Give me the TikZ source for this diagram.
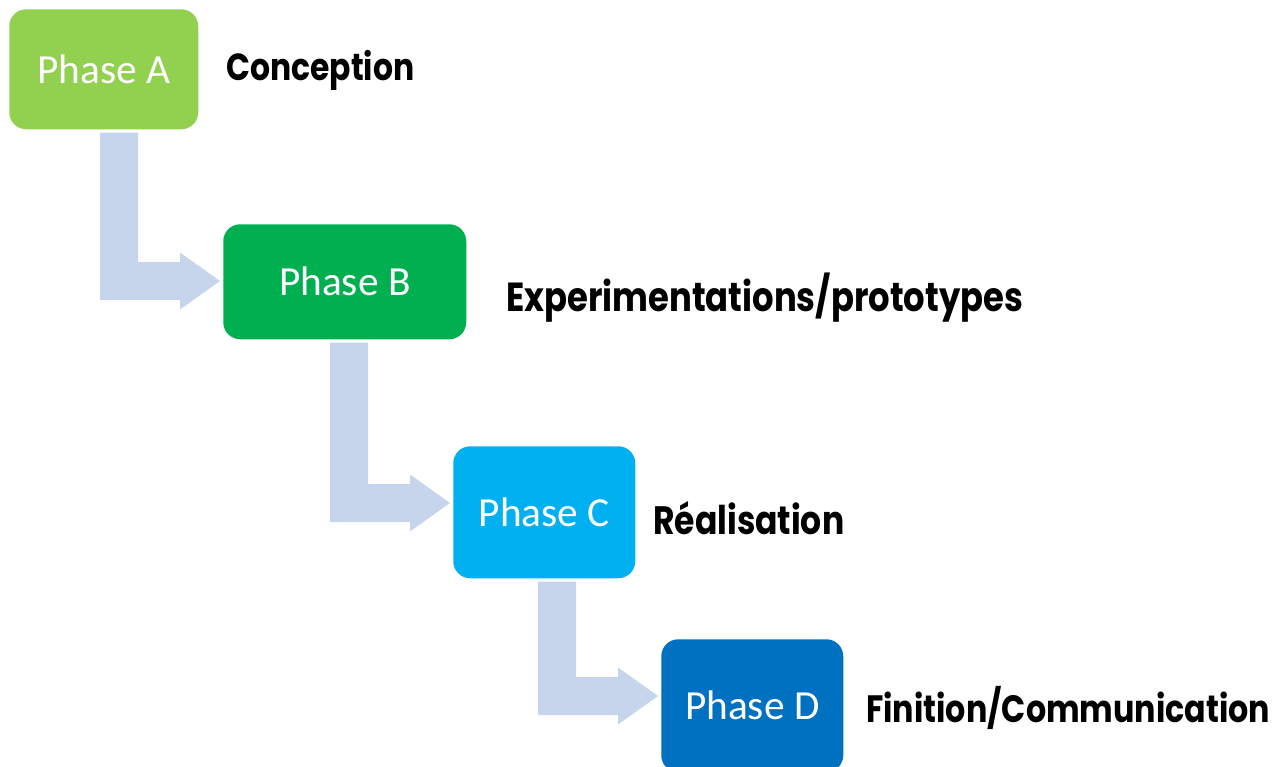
\documentclass[tikz,border=0pt]{standalone}
\usepackage{fontspec}
\setmainfont{Carlito}
\newfontfamily\labfont{Poppins}
\usetikzlibrary{calc}
\definecolor{phA}{HTML}{92D050}
\definecolor{phB}{HTML}{00B050}
\definecolor{phC}{HTML}{00B0F0}
\definecolor{phD}{HTML}{0070C0}
\definecolor{arrfill}{HTML}{C6D5EB}
\tikzset{
  phasebox/.style={anchor=north west, inner sep=0pt, rounded corners=12.75pt,
    text=white, font=\fontsize{31}{36}\selectfont, align=center},
  lab/.style={anchor=base west, inner sep=0pt, text=black},
  arrowfill/.style={fill=arrfill}
}
\newcommand\blockarr[2]{%
  \fill[arrowfill] let \p1=(#1.south), \p2=(#2.north west) in
    (\x2-92.25pt,\y1-2.25pt) -- (\x2-63.75pt,\y1-2.25pt) -- (\x2-63.75pt,\y2-28.5pt)
    -- (\x2-32.25pt,\y2-28.5pt) -- (\x2-32.25pt,\y2-21.375pt) -- (\x2-2.25pt,\y2-42.75pt)
    -- (\x2-32.25pt,\y2-64.125pt) -- (\x2-32.25pt,\y2-57pt) -- (\x2-92.25pt,\y2-57pt) -- cycle;}
\newcommand\labtext[2]{\resizebox{#1}{!}{\scalebox{1}[1.2]{\labfont\bfseries #2}}}
\begin{document}
\begin{tikzpicture}[x=0.75pt,y=-0.75pt]
\useasboundingbox (0,0) rectangle (1282,767);
\clip (0,0) rectangle (1282,767);
\node[phasebox, fill=phA, minimum width=141.75pt, minimum height=90pt] (A) at (9,9) {Phase A};
\node[phasebox, fill=phB, minimum width=182.25pt, minimum height=86.25pt] (B) at (223,224) {Phase B};
\node[phasebox, fill=phC, minimum width=136.5pt, minimum height=99pt] (C) at (453,446) {Phase C};
\node[phasebox, fill=phD, minimum width=136.5pt, minimum height=99.75pt] (D) at (661,639) {Phase D};
\blockarr{A}{B}
\blockarr{B}{C}
\blockarr{C}{D}
\node[lab] (la) at (226,80) {\labtext{141pt}{Conception}};
\node[lab] (lb) at (506,311) {\labtext{387.75pt}{Experimentations/prototypes}};
\node[lab] (lc) at (653,534) {\labtext{143.25pt}{Réalisation}};
\node[lab] (ld) at (866,722) {\labtext{303pt}{Finition/Communication}};
\end{tikzpicture}
\end{document}
